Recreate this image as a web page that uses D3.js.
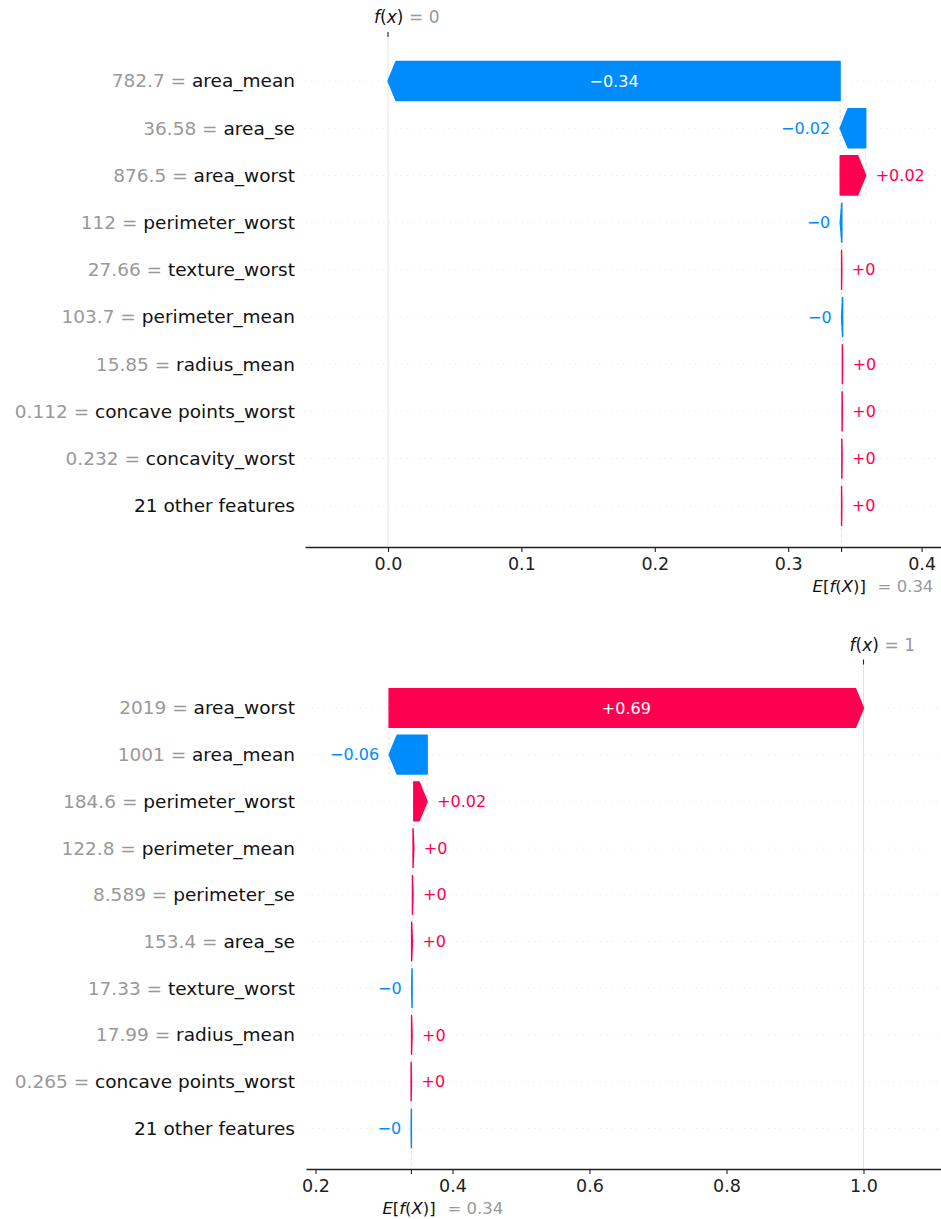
<!DOCTYPE html>
<html>
<head>
<meta charset="utf-8">
<script src="https://cdn.jsdelivr.net/npm/d3@7"></script>
<style>
html,body{margin:0;padding:0;background:#fff;}
svg{display:block;font-family:"DejaVu Sans",sans-serif;}
</style>
</head>
<body>
<svg id="chart" width="941" height="1219"></svg>
<script>
// Waterfall 1: sample predicted as 0
const featuresA = ["area_mean", "area_se", "area_worst", "perimeter_worst", "texture_worst",
  "perimeter_mean", "radius_mean", "concave points_worst", "concavity_worst", "21 other features"];
const featureValuesA = [782.7, 36.58, 876.5, 112, 27.66, 103.7, 15.85, 0.112, 0.232, null];
const shapValuesA = [-0.3389, -0.0192, 0.0191, -0.0012, 0.0002, -0.0008, 0.0002, 0.0002, 0.0002, 0.0002];
const baseValueA = 0.34;
const ticksA = [0.0, 0.1, 0.2, 0.3, 0.4];

// Waterfall 2: sample predicted as 1
const featuresB = ["area_worst", "area_mean", "perimeter_worst", "perimeter_mean", "perimeter_se",
  "area_se", "texture_worst", "radius_mean", "concave points_worst", "21 other features"];
const featureValuesB = [2019, 1001, 184.6, 122.8, 8.589, 153.4, 17.33, 17.99, 0.265, null];
const shapValuesB = [0.6925, -0.0555, 0.0195, 0.0011, 0.0009, 0.0012, -0.0007, 0.0008, 0.0006, -0.0004];
const baseValueB = 0.34;
const ticksB = [0.2, 0.4, 0.6, 0.8, 1.0];

const RED = "#ff0051", BLUE = "#008bfb", GRAY = "#999999", INK = "#111111";
const svg = d3.select("#chart");

const fmtShap = v => (v < 0 ? "\u2212" : "+") + (+Math.abs(v).toFixed(2)).toString();
const fmtOut = v => (+v.toFixed(3)).toString();

function mathText(sel, parts) {
  parts.forEach(([s, it]) => sel.append("tspan").style("font-style", it ? "italic" : "normal").text(s));
}

function drawWaterfall(p) {
  const g = svg.append("g");
  const n = p.features.length;
  const x = d3.scaleLinear().domain(p.domain).range(p.range);
  const y = d3.scalePoint().domain(d3.range(n)).range(p.rows);
  const step = y.step();
  const barH = step * 0.83;
  const headPx = 8;

  // accumulate from the bottom row upward, starting at E[f(X)]
  const starts = new Array(n), ends = new Array(n);
  let acc = p.base;
  for (let i = n - 1; i >= 0; i--) { starts[i] = acc; acc += p.shap[i]; ends[i] = acc; }
  const fx = acc;
  const plotTop = y(0) - step * 0.93;

  // row guide lines
  g.selectAll(".grid").data(d3.range(n)).join("line")
    .attr("x1", p.range[0]).attr("x2", p.range[1])
    .attr("y1", i => y(i)).attr("y2", i => y(i))
    .attr("stroke", "#d4d4d4").attr("stroke-width", 0.6).attr("stroke-dasharray", "1,5");

  // f(x) reference line
  g.append("line").attr("x1", x(fx)).attr("x2", x(fx))
    .attr("y1", plotTop).attr("y2", p.axisY)
    .attr("stroke", "#dcdcdc").attr("stroke-width", 0.8);

  // E[f(X)] reference line below the last bar
  g.append("line").attr("x1", x(p.base)).attr("x2", x(p.base))
    .attr("y1", y(n - 1) - barH / 2).attr("y2", p.axisY)
    .attr("stroke", "#c8c8c8").attr("stroke-width", 0.6).attr("stroke-dasharray", "3,3");

  // connectors between consecutive bars
  g.selectAll(".conn").data(d3.range(n - 1)).join("line")
    .attr("x1", i => x(starts[i])).attr("x2", i => x(starts[i]))
    .attr("y1", i => y(i) - barH / 2).attr("y2", i => y(i + 1) + barH / 2)
    .attr("stroke", "#c8c8c8").attr("stroke-width", 0.6).attr("stroke-dasharray", "3,3");

  // arrow-shaped bars
  const arrow = i => {
    const x0 = x(starts[i]), x1 = x(ends[i]);
    const w = Math.abs(x1 - x0), hl = Math.min(w, headPx);
    const s = p.shap[i] >= 0 ? 1 : -1;
    const yt = y(i) - barH / 2, yb = y(i) + barH / 2, yc = y(i);
    return [[x0, yt], [x1 - s * hl, yt], [x1, yc], [x1 - s * hl, yb], [x0, yb]];
  };
  g.selectAll(".bar").data(d3.range(n)).join("polygon")
    .attr("points", i => arrow(i).map(d => d.join(",")).join(" "))
    .attr("fill", i => p.shap[i] >= 0 ? RED : BLUE)
    .attr("stroke", i => p.shap[i] >= 0 ? RED : BLUE)
    .attr("stroke-width", 1.4).attr("stroke-linejoin", "round");

  // value labels: inside the bar when they fit, otherwise past the tip
  d3.range(n).forEach(i => {
    const v = p.shap[i];
    const x0 = x(starts[i]), x1 = x(ends[i]);
    const t = g.append("text").attr("y", y(i)).attr("dy", "0.35em")
      .style("font-size", "16px").text(fmtShap(v));
    const tw = t.node().getComputedTextLength();
    if (tw < Math.abs(x1 - x0) - 12) {
      t.attr("x", (x0 + x1) / 2).attr("text-anchor", "middle").attr("fill", "#fff");
    } else if (v >= 0) {
      t.attr("x", x1 + 10).attr("text-anchor", "start").attr("fill", RED);
    } else {
      t.attr("x", x1 - 10).attr("text-anchor", "end").attr("fill", BLUE);
    }
  });

  // feature labels: "value = name"
  d3.range(n).forEach(i => {
    const t = g.append("text").attr("x", p.labelX).attr("y", y(i)).attr("dy", "0.35em")
      .attr("text-anchor", "end").style("font-size", "18.5px");
    if (p.values[i] !== null) t.append("tspan").attr("fill", GRAY).text(String(p.values[i]) + " = ");
    t.append("tspan").attr("fill", INK).text(p.features[i]);
  });

  // bottom axis
  const ax = g.append("g").attr("transform", `translate(0,${p.axisY})`)
    .call(d3.axisBottom(x).tickValues(p.ticks).tickFormat(d3.format(".1f"))
      .tickSize(5).tickSizeOuter(0).tickPadding(6));
  ax.attr("font-family", null).attr("font-size", null);
  ax.select(".domain").attr("stroke", "#222").attr("stroke-width", 1.3);
  ax.selectAll(".tick line").attr("stroke", "#222").attr("stroke-width", 1.1);
  ax.selectAll(".tick text").attr("fill", "#222").style("font-size", "17.5px");
  // extra tick at E[f(X)]
  ax.append("line").attr("x1", x(p.base)).attr("x2", x(p.base)).attr("y1", 0).attr("y2", 5)
    .attr("stroke", "#222").attr("stroke-width", 1.1);

  // E[f(X)] label
  const eT = g.append("text").attr("x", x(p.base) - 29).attr("y", p.axisY + 45)
    .style("font-size", "16.5px").attr("fill", INK);
  mathText(eT, [["E", true], ["[", false], ["f", true], ["(", false], ["X", true], [")", false], ["]", false]]);
  g.append("text").attr("x", x(p.base) + 36).attr("y", p.axisY + 45)
    .style("font-size", "16.5px").attr("fill", GRAY).text("= " + fmtOut(p.base));

  // f(x) tick and label at the top
  g.append("line").attr("x1", x(fx)).attr("x2", x(fx)).attr("y1", plotTop - 5).attr("y2", plotTop)
    .attr("stroke", "#222").attr("stroke-width", 1.1);
  const fT = g.append("text").attr("x", x(fx) - 14).attr("y", plotTop - 14)
    .style("font-size", "17px").attr("fill", INK);
  mathText(fT, [["f", true], ["(", false], ["x", true], [")", false]]);
  g.append("text").attr("x", x(fx) + 21).attr("y", plotTop - 14)
    .style("font-size", "17px").attr("fill", GRAY).text("= " + fmtOut(fx));
}

drawWaterfall({
  features: featuresA, values: featureValuesA, shap: shapValuesA, base: baseValueA, ticks: ticksA,
  domain: [-0.06222, 0.41454], range: [305, 941], rows: [81, 505.8], axisY: 547, labelX: 295
});

drawWaterfall({
  features: featuresB, values: featureValuesB, shap: shapValuesB, base: baseValueB, ticks: ticksB,
  domain: [0.18613, 1.11314], range: [306, 941], rows: [708, 1128.3], axisY: 1169, labelX: 295
});
</script>
</body>
</html>
